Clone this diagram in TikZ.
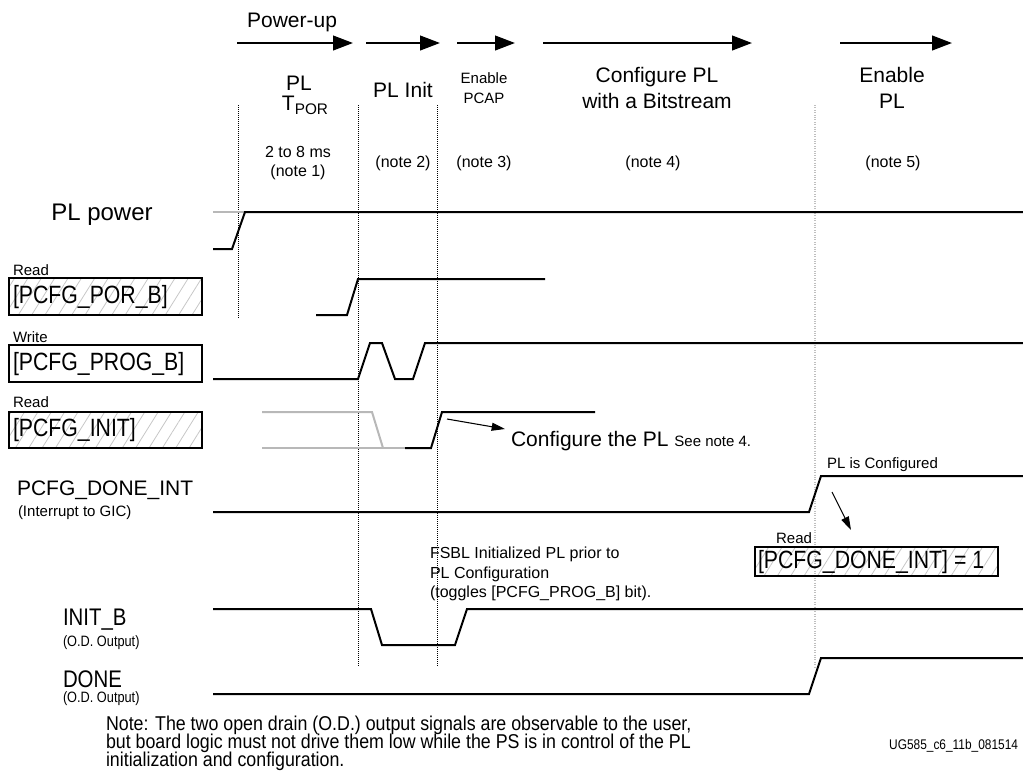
\documentclass[tikz,border=0pt]{standalone}
\usepackage{fontspec}
\setmainfont{Liberation Sans}
\newfontfamily\narrowfont[FakeStretch=0.85]{Liberation Sans}
\newfontfamily\notefont[FakeStretch=0.89]{Liberation Sans}
\usetikzlibrary{arrows.meta,patterns.meta}
\begin{document}
\begin{tikzpicture}[x=0.75pt,y=-0.75pt,
  every node/.style={inner sep=0pt,outer sep=0pt},
  sig/.style={line width=1.5pt,line join=miter},
  gsig/.style={line width=1.5pt,draw=black!28},
  vdot/.style={line width=0.5pt,densely dotted},
  gvdot/.style={line width=0.8pt,densely dotted,draw=black!25},
  toparr/.style={line width=1.6pt,-{Triangle[length=15pt,width=11pt]}},
  annarr/.style={line width=0.8pt,-{Triangle[length=10pt,width=6pt]}},
  hatch/.style={draw,line width=0.8pt,pattern={Lines[angle=58,distance=8.5pt,line width=0.6pt]},pattern color=black!22},
  big/.style={font=\fontsize{15.75}{18.75}\selectfont},
  lbig/.style={font=\fontsize{18}{20}\selectfont},
  med/.style={font=\fontsize{12}{15}\selectfont},
  sml/.style={font=\fontsize{11.25}{15}\selectfont},
  reg/.style={font=\narrowfont\fontsize{18.75}{20}\selectfont},
  nbig/.style={font=\narrowfont\fontsize{18}{20}\selectfont},
  nsml/.style={font=\narrowfont\fontsize{11.25}{13}\selectfont},
  nnote/.style={font=\notefont\fontsize{15}{13.6}\selectfont},
]
\useasboundingbox (0,0) rectangle (1023,772);

% ---------- top phase arrows ----------
\node[big,anchor=base] (pwrup) at (292,27) {Power-up};
\draw[toparr] (237,43) -- (353,43);
\draw[toparr] (366,43) -- (440,43);
\draw[toparr] (457,43) -- (515,43);
\draw[toparr] (543,43) -- (752,43);
\draw[toparr] (840,43) -- (952,43);

% ---------- phase titles ----------
\node[big,anchor=base] (tpl) at (299,90) {PL};
\node[big,anchor=base] (ttpor) at (305,110) {T\raisebox{-0.45ex}{\fontsize{11.5}{12}\selectfont POR}};
\node[big,anchor=base] (tinit) at (403,97) {PL Init};
\node[sml,anchor=base] (tpcap1) at (484,83) {Enable};
\node[sml,anchor=base] (tpcap2) at (484,103) {PCAP};
\node[big,anchor=base] (tcfg1) at (657,82) {Configure PL};
\node[big,anchor=base] (tcfg2) at (657,108) {with a Bitstream};
\node[big,anchor=base] (tenpl1) at (892,82) {Enable};
\node[big,anchor=base] (tenpl2) at (892,108) {PL};

\node[med,anchor=base] (n1a) at (298,157) {2 to 8 ms};
\node[med,anchor=base] (n1b) at (298,176) {(note 1)};
\node[med,anchor=base] (n2) at (403,167) {(note 2)};
\node[med,anchor=base] (n3) at (484,167) {(note 3)};
\node[med,anchor=base] (n4) at (653,167) {(note 4)};
\node[med,anchor=base] (n5) at (893,167) {(note 5)};

% ---------- vertical phase boundaries ----------
\draw[vdot] (238,105) -- (238,319);
\draw[vdot] (358,105) -- (358,667);
\draw[vdot] (437,105) -- (437,667);
\draw[gvdot] (815,105) -- (815,667);

% ---------- left labels ----------
\node[lbig] (lpower) at (102,215) {PL power};

\node[sml,anchor=west] (lread1) at (13,270) {Read};
\draw[hatch] (9,278) rectangle (202,315);
\node[reg,anchor=west] (lpor) at (13,297) {[PCFG\_POR\_B]};

\node[sml,anchor=west] (lwrite) at (13,337) {Write};
\draw[line width=0.8pt,fill=white] (9,345) rectangle (202,382);
\node[reg,anchor=west] (lprog) at (13,364) {[PCFG\_PROG\_B]};

\node[sml,anchor=west] (lread2) at (13,402) {Read};
\draw[hatch] (9,412) rectangle (202,448);
\node[reg,anchor=west] (linit) at (13,430) {[PCFG\_INIT]};

\node[big,anchor=west] (ldone) at (17,490) {PCFG\_DONE\_INT};
\node[sml,anchor=west] (lgic) at (18,513) {(Interrupt to GIC)};

\node[nbig,anchor=west] (linitb) at (63,620) {INIT\_B};
\node[nsml,anchor=west] (lod1) at (63,643) {(O.D. Output)};
\node[nbig,anchor=west] (ldonep) at (63,679) {DONE};
\node[nsml,anchor=west] (lod2) at (63,699) {(O.D. Output)};

% ---------- waveforms ----------
% PL power
\draw[gsig] (213,212) -- (245,212);
\draw[sig] (213,249) -- (232,249) -- (245,212) -- (1023,212);
% PCFG_POR_B
\draw[sig] (316,315) -- (347,315) -- (358,279) -- (545,279);
% PCFG_PROG_B
\draw[sig] (213,379) -- (358,379) -- (370,343) -- (382,343) -- (395,379) -- (413,379) -- (425,343) -- (1023,343);
% PCFG_INIT
\draw[gsig] (262,412) -- (372,412) -- (383,448);
\draw[gsig] (262,448) -- (405,448);
\draw[sig] (405,448) -- (431,448) -- (442,412) -- (595,412);
% PCFG_DONE_INT
\draw[sig] (213,512) -- (809,512) -- (821,476) -- (1023,476);
% INIT_B
\draw[sig] (213,609) -- (371,609) -- (382,645) -- (455,645) -- (467,609) -- (1023,609);
% DONE
\draw[sig] (213,694) -- (809,694) -- (821,658) -- (1023,658);

% ---------- annotations ----------
\node[big,anchor=base west] (cfgpl) at (511,446) {Configure the PL {\fontsize{11.25}{12}\selectfont See note 4.}};
\coordinate (c1s) at (447,419);
\coordinate (c1e) at (505,429);
\draw[annarr] (c1s) -- (c1e);

\node[sml,anchor=west] (plcfg) at (827,465) {PL is Configured};
\coordinate (c2s) at (832,492);
\coordinate (c2e) at (851,530);
\draw[annarr] (c2s) -- (c2e);

\node[sml] (lread3) at (794,538) {Read};
\draw[hatch] (755,547) rectangle (998,576);
\node[reg,anchor=west] (ldoneint) at (758,562) {[PCFG\_DONE\_INT] = 1};

\node[med,anchor=base west] (fsbl1) at (430,558) {FSBL Initialized PL prior to};
\node[med,anchor=base west] (fsbl2) at (430,578) {PL Configuration};
\node[med,anchor=base west] (fsbl3) at (430,597) {(toggles [PCFG\_PROG\_B] bit).};

\node[nnote,anchor=base west] (note1) at (106,730) {Note: The two open drain (O.D.) output signals are observable to the user,};
\node[nnote,anchor=base west] (note2) at (106,748) {but board logic must not drive them low while the PS is in control of the PL};
\node[nnote,anchor=base west] (note3) at (106,766) {initialization and configuration.};

\node[font=\narrowfont\fontsize{10.5}{12}\selectfont,anchor=base east] (ug) at (1018,749) {UG585\_c6\_11b\_081514};
\end{tikzpicture}
\end{document}
